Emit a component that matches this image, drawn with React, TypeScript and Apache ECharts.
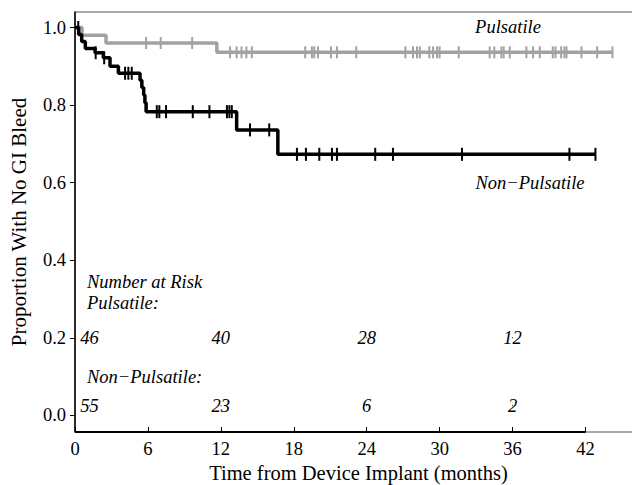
import React, { useEffect, useRef } from "react";
import * as echarts from "echarts";

// Kaplan-Meier step points [months, proportion]
const pulsatileSteps: [number, number][] = [
  [0, 1.0], [0.58, 0.98], [2.55, 0.96], [11.67, 0.936], [44.22, 0.936],
];
const nonPulsatileSteps: [number, number][] = [
  [0, 1.0], [0.3, 0.982], [0.55, 0.964], [0.85, 0.946], [1.65, 0.935], [2.33, 0.922],
  [2.88, 0.9], [3.57, 0.882], [5.35, 0.864], [5.5, 0.845], [5.65, 0.826], [5.75, 0.806],
  [5.85, 0.783], [13.3, 0.736], [16.69, 0.673], [42.82, 0.673],
];
// censoring times (months)
const pulsatileCensor: number[] = [
  5.85, 7.05, 9.64, 12.76, 13.3, 13.7, 14.1, 14.55, 18.94, 19.49, 19.68, 19.99, 21.06, 21.55,
  23.14, 27.18, 27.81, 28.14, 28.37, 29.15, 29.46, 29.79, 30.0, 31.57, 34.12, 34.5, 35.08,
  35.27, 35.77, 37.14, 37.69, 38.24, 39.31, 39.53, 40.0, 40.27, 40.44, 41.67, 42.96, 44.22,
];
const nonPulsatileCensor: number[] = [
  0.27, 1.7, 2.4, 4.12, 4.39, 4.67, 6.73, 6.94, 7.49, 9.69, 11.06, 12.5, 12.7, 12.9, 14.4,
  15.98, 18.26, 19.0, 20.1, 21.14, 21.55, 24.7, 26.16, 31.84, 40.68, 42.82,
];
// number at risk
const riskTimes: number[] = [1.2, 12, 24, 36];
const pulsatileRisk: number[] = [46, 40, 28, 12];
const nonPulsatileRisk: number[] = [55, 23, 6, 2];
const pulsatileRiskRow = 0.2;
const nonPulsatileRiskRow = 0.025;

const xTicks: number[] = [0, 6, 12, 18, 24, 30, 36, 42];
const yTicks: number[] = [0, 0.2, 0.4, 0.6, 0.8, 1.0];

const X_MIN = 0;
const X_MAX = 46.65;
const Y_MIN = -0.043;
const Y_MAX = 1.04;

const survivalAt = (steps: [number, number][], t: number) => {
  let v = steps[0][1];
  for (const [st, sv] of steps) {
    if (st <= t) v = sv;
  }
  return v;
};

const FONT = "'Liberation Serif', 'DejaVu Serif', serif";
const GRAY = "#a2a2a2";
const BLACK = "#000000";
const FS = 18.5;

export default function App() {
  const ref = useRef<HTMLDivElement>(null);
  useEffect(() => {
    if (!ref.current) return;
    const chart = echarts.init(ref.current, undefined, { renderer: "svg" });
    const txt = { fontFamily: FONT, fontSize: FS, fill: "#000", fontStyle: "italic" };
    const riskLabel = {
      show: true,
      position: "inside",
      formatter: (p: any) => String(p.value[2]),
      fontFamily: FONT,
      fontSize: FS,
      fontStyle: "italic",
      color: "#000",
      opacity: 1,
    };
    chart.setOption({
      animation: false,
      backgroundColor: "#fff",
      grid: {
        left: 75, top: 12, bottom: 53, right: -10,
        containLabel: false,
        outerBoundsMode: "none",
        show: true, borderColor: "#555", borderWidth: 1, backgroundColor: "transparent",
      },
      xAxis: {
        type: "value",
        min: X_MIN,
        max: X_MAX,
        name: "Time from Device Implant (months)",
        nameLocation: "middle",
        nameGap: 29,
        nameTextStyle: { fontFamily: FONT, fontSize: 20.5, color: "#000" },
        axisLine: { show: false, onZero: false },
        axisTick: { show: true, inside: true, length: 5, customValues: xTicks, lineStyle: { color: "#000" } },
        axisLabel: { customValues: xTicks, fontFamily: FONT, fontSize: FS, color: "#000", margin: 7 },
        splitLine: { show: false },
      },
      yAxis: {
        type: "value",
        min: Y_MIN,
        max: Y_MAX,
        name: "Proportion With No GI Bleed",
        nameLocation: "middle",
        nameGap: 46,
        nameTextStyle: { fontFamily: FONT, fontSize: 21, color: "#000" },
        axisLine: { show: true, onZero: false, lineStyle: { color: "#000", width: 1.5 } },
        axisTick: { show: true, length: 5, customValues: yTicks, lineStyle: { color: "#000" } },
        axisLabel: {
          customValues: yTicks, fontFamily: FONT, fontSize: FS, color: "#000", margin: 9,
          formatter: (v: number) => v.toFixed(1),
        },
        splitLine: { show: false },
      },
      series: [
        {
          type: "line",
          name: "Pulsatile",
          step: "end",
          data: pulsatileSteps,
          showSymbol: false,
          lineStyle: { color: GRAY, width: 3.5 },
          z: 2,
          markLine: {
            silent: true,
            symbol: "none",
            lineStyle: { color: "#000", width: 1.8, type: "solid" },
            label: { show: false },
            data: [[{ coord: [xTicks[0], Y_MIN] }, { coord: [xTicks[xTicks.length - 1], Y_MIN] }]],
          },
        },
        {
          type: "scatter",
          name: "Pulsatile censored",
          data: pulsatileCensor.map((t) => [t, survivalAt(pulsatileSteps, t)]),
          symbol: "rect",
          symbolSize: [2, 12],
          itemStyle: { color: GRAY, opacity: 1 },
          z: 3,
        },
        {
          type: "line",
          name: "Non-Pulsatile",
          step: "end",
          data: nonPulsatileSteps,
          showSymbol: false,
          lineStyle: { color: BLACK, width: 3.5 },
          z: 4,
        },
        {
          type: "scatter",
          name: "Non-Pulsatile censored",
          data: nonPulsatileCensor.map((t) => [t, survivalAt(nonPulsatileSteps, t)]),
          symbol: "rect",
          symbolSize: [2, 13],
          itemStyle: { color: BLACK, opacity: 1 },
          z: 5,
        },
        {
          type: "scatter",
          name: "Pulsatile at risk",
          data: riskTimes.map((t, i) => [t, pulsatileRiskRow, pulsatileRisk[i]]),
          symbolSize: 1,
          itemStyle: { color: "#000", opacity: 1 },
          label: riskLabel,
          z: 6,
        },
        {
          type: "scatter",
          name: "Non-Pulsatile at risk",
          data: riskTimes.map((t, i) => [t, nonPulsatileRiskRow, nonPulsatileRisk[i]]),
          symbolSize: 1,
          itemStyle: { color: "#000", opacity: 1 },
          label: riskLabel,
          z: 6,
        },
      ],
      graphic: [
        { type: "text", x: 508, y: 27, style: { ...txt, text: "Pulsatile", textAlign: "center", textVerticalAlign: "middle" } },
        { type: "text", x: 530, y: 183, style: { ...txt, text: "Non\u2212Pulsatile", textAlign: "center", textVerticalAlign: "middle" } },
        { type: "text", x: 87, y: 282, style: { ...txt, text: "Number at Risk", textAlign: "left", textVerticalAlign: "middle" } },
        { type: "text", x: 87, y: 303, style: { ...txt, text: "Pulsatile:", textAlign: "left", textVerticalAlign: "middle" } },
        { type: "text", x: 87, y: 377, style: { ...txt, text: "Non\u2212Pulsatile:", textAlign: "left", textVerticalAlign: "middle" } },
      ],
    });
    return () => chart.dispose();
  }, []);
  return (
    <div
      ref={ref}
      style={{ position: "fixed", left: 0, top: 0, width: 632, height: 485, background: "#fff" }}
    />
  );
}
